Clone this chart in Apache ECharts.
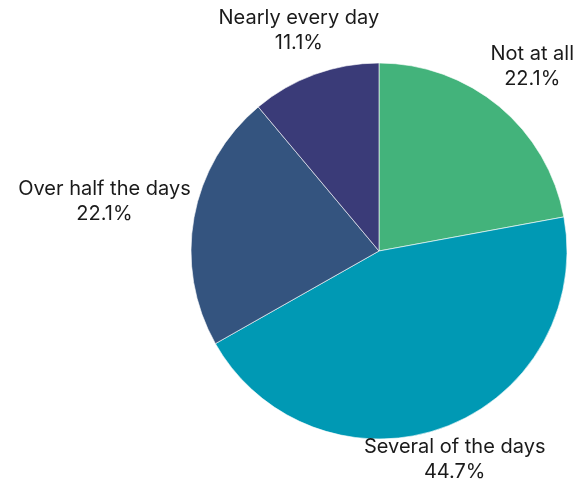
<!DOCTYPE html>
<html><head><meta charset="utf-8">
<script src="https://cdn.jsdelivr.net/npm/echarts@6/dist/echarts.min.js"></script>
<style>html,body{margin:0;padding:0;background:#fff}#c{width:573px;height:481px}</style>
</head><body><div id="c"></div>
<script>
const categories = ['Not at all', 'Several of the days', 'Over half the days', 'Nearly every day'];
const values = [22.1, 44.7, 22.1, 11.1];
const colors = ['#43b37b', '#0099b4', '#34547f', '#3a3b78'];

const CX = 379, CY = 251, R = 188, PAD = 1, SHIFT = 6;
const total = values.reduce((a, b) => a + b, 0);
const mids = [];
let cum = 0;
values.forEach(v => { mids.push((cum + v / 2) / total * 2 * Math.PI); cum += v; });

const chart = echarts.init(document.getElementById('c'));
chart.setOption({
  animation: false,
  series: [{
    type: 'pie',
    center: [CX, CY],
    radius: R,
    startAngle: 90,
    clockwise: true,
    avoidLabelOverlap: false,
    data: categories.map((n, i) => ({ name: n, value: values[i], itemStyle: { color: colors[i] } })),
    itemStyle: { borderColor: '#ffffff', borderWidth: 0.6 },
    label: {
      show: true,
      position: 'outside',
      overflow: 'none',
      formatter: p => p.name + '\n' + p.value + '%',
      fontFamily: 'Inter',
      fontSize: 20,
      lineHeight: 25,
      color: '#1a1a1a',
      align: 'center'
    },
    labelLine: { show: false },
    emphasis: { disabled: true },
    labelLayout: function (p) {
      const th = mids[p.dataIndex];
      const ux = Math.sin(th), uy = -Math.cos(th);
      const hw = p.labelRect.width / 2, hh = p.labelRect.height / 2;
      let d = 0;
      for (; d < 500; d += 0.5) {
        const bx = d * ux, by = d * uy + SHIFT;
        const nx = Math.max(bx - hw, Math.min(0, bx + hw));
        const ny = Math.max(by - hh, Math.min(0, by + hh));
        if (Math.hypot(nx, ny) >= R + PAD) break;
      }
      return { x: CX + d * ux, y: CY + d * uy, align: 'center', verticalAlign: 'middle' };
    }
  }]
});
</script></body></html>
